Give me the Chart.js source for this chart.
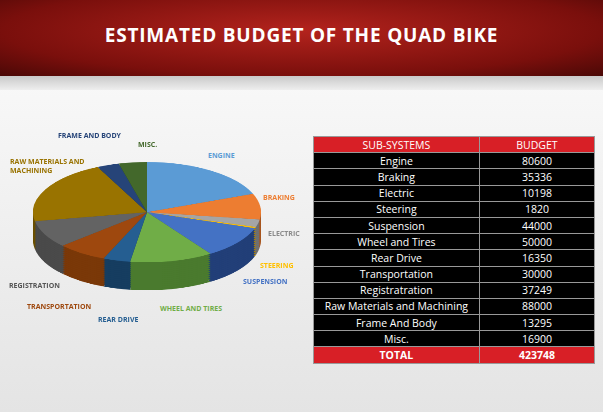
<!DOCTYPE html>
<html><head><meta charset="utf-8">
<script src="https://cdn.jsdelivr.net/npm/chart.js@4"></script>
<style>
body{margin:0;width:603px;height:412px;overflow:hidden;font-family:"Open Sans",sans-serif;background:linear-gradient(#fdfdfd,#e4e4e4);position:relative}
#head{position:absolute;left:0;top:0;width:603px;height:76px;background:radial-gradient(ellipse at 50% 40%,#b3231d,#7a0f0c 70%,#4a0806);}
#head h1{margin:0;position:absolute;width:100%;top:22px;text-align:center;color:#fff;font:bold 19px "Open Sans",sans-serif;letter-spacing:0.8px}
#strip{position:absolute;left:0;top:76px;width:603px;height:14px;background:linear-gradient(#c9c9c9,#eee)}
.pie{position:absolute;left:33px;width:228px;height:228px;transform:scaleY(0.44);transform-origin:0 0}
.lbl{position:absolute;font:bold 7px "Open Sans",sans-serif;line-height:9px}
table{position:absolute;left:313px;top:136px;width:282px;border-collapse:collapse;font-size:10.5px;color:#fff}
td{border:1px solid #999;height:15.2px;padding:0;text-align:center;background:#000}
tr.r td{background:#d81f26}
tr.r.t td{font-weight:bold}
</style></head><body>
<div id="head"><h1>ESTIMATED BUDGET OF THE QUAD BIKE</h1></div>
<div id="strip"></div>
<div id="pies"></div>
<div id="labels"></div>
<table id="tbl"></table>
<script>
const categories = ['Engine','Braking','Electric','Steering','Suspension','Wheel and Tires','Rear Drive','Transportation','Registratration','Raw Materials and Machining','Frame And Body','Misc.'];
const budget = [80600,35336,10198,1820,44000,50000,16350,30000,37249,88000,13295,16900];
const total = 423748;
const colors = ['#5b9bd5','#ed7d31','#a5a5a5','#ffc000','#4472c4','#70ad47','#255e91','#9e480e','#636363','#997300','#264478','#43682b'];
const dark = ['#3a6d9c','#a8561f','#707070','#b08400','#223f78','#4a7a2e','#163d60','#7a3808','#4a4a4a','#6a5000','#182c50','#2b451b'];
const pieLabels = [
  ['ENGINE',208,151,'#5b9bd5'],['BRAKING',263,193,'#ed7d31'],['ELECTRIC',268,229,'#8a8a8a'],['STEERING',260,261,'#ffc000'],
  ['SUSPENSION',243,277,'#4472c4'],['WHEEL AND TIRES',160,304,'#70ad47'],['REAR DRIVE',98,315,'#255e91'],['TRANSPORTATION',27,302,'#9e480e'],
  ['REGISTRATION',9,281,'#555'],['RAW MATERIALS AND<br>MACHINING',10,157,'#997300'],['FRAME AND BODY',58,131,'#264478'],['MISC.',138,140,'#43682b']];

const pies = document.getElementById('pies');
function pie(top, cols) {
  const d = document.createElement('div');
  d.className = 'pie';
  d.style.top = top + 'px';
  const c = document.createElement('canvas');
  c.width = 228; c.height = 228;
  d.appendChild(c);
  pies.appendChild(d);
  new Chart(c, {
    type: 'pie',
    data: { labels: categories, datasets: [{ data: budget, backgroundColor: cols, borderWidth: 0 }] },
    options: { responsive: false, animation: false, layout: { padding: 0 },
      plugins: { legend: { display: false }, tooltip: { enabled: false } } }
  });
}
for (let off = 28; off > 0; off -= 2) pie(162 + off, dark);
pie(162, colors);

document.getElementById('labels').innerHTML = pieLabels.map(l =>
  `<div class="lbl" style="left:${l[1]}px;top:${l[2]}px;color:${l[3]}">${l[0]}</div>`).join('');

let rows = '<tr class="r"><td style="width:59%">SUB-SYSTEMS</td><td>BUDGET</td></tr>';
categories.forEach((c, i) => { rows += `<tr><td>${c}</td><td>${budget[i]}</td></tr>`; });
rows += `<tr class="r t"><td>TOTAL</td><td>${total}</td></tr>`;
document.getElementById('tbl').innerHTML = rows;
</script>
</body></html>
